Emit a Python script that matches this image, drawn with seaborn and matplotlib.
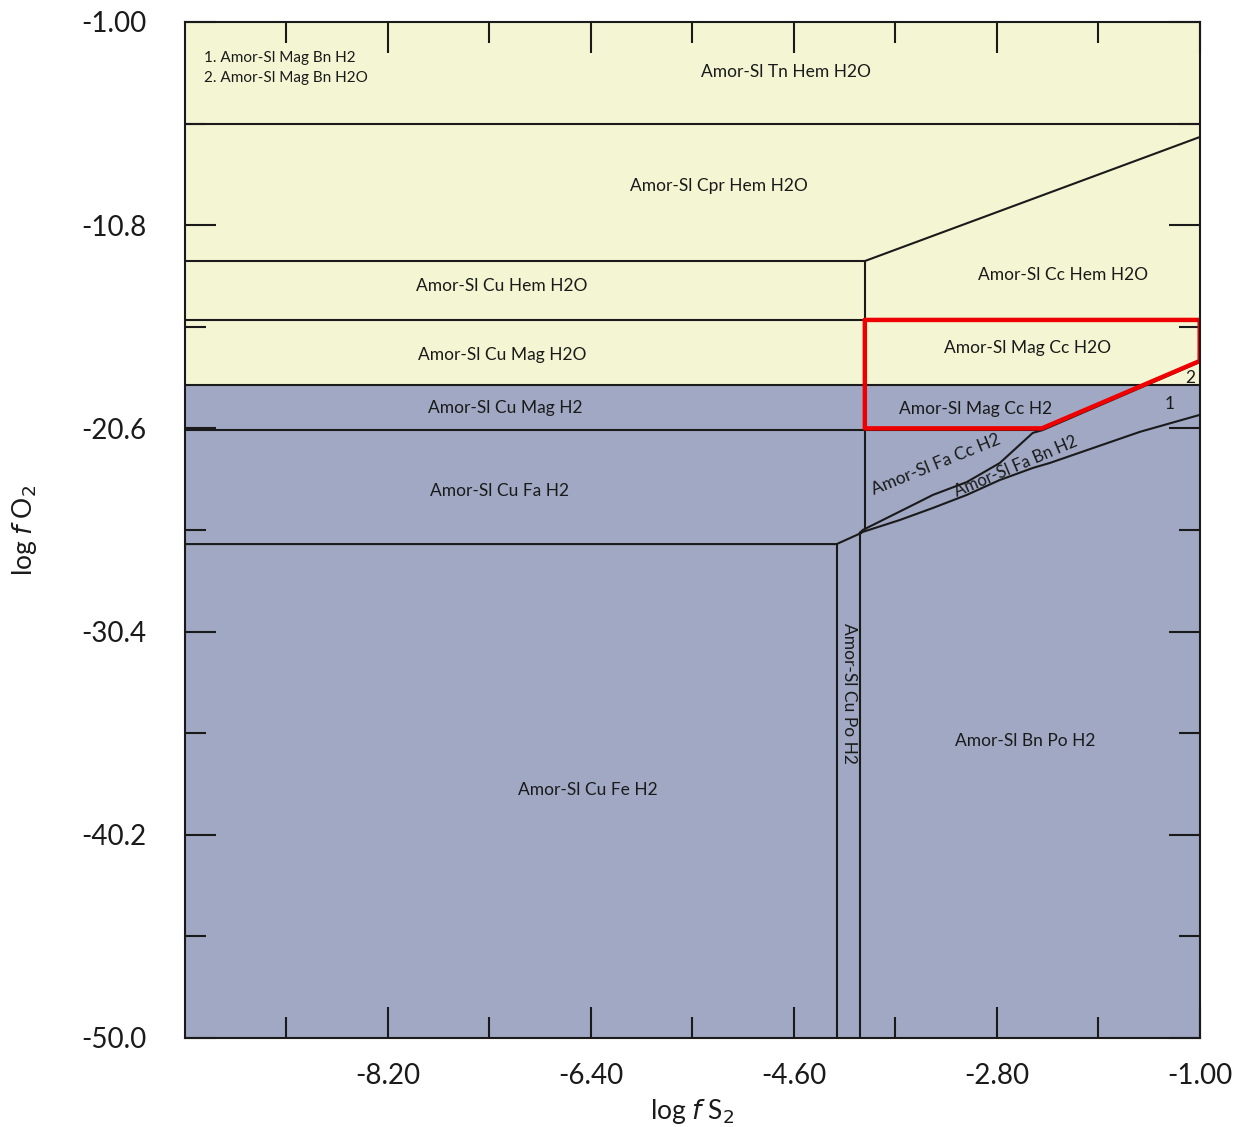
import matplotlib
matplotlib.use("Agg")
import matplotlib.pyplot as plt
import seaborn as sns
import numpy as np
import pandas as pd
from matplotlib.ticker import FixedLocator, FixedFormatter

sns.set_theme(style="white")
plt.rcParams['font.family'] = ['Lato', 'DejaVu Sans']

# ---- axes / ticks ----
x_range = [-10.0, -1.0]
y_range = [-50.0, -1.0]
x_major = [-8.2, -6.4, -4.6, -2.8, -1.0]
x_major_labels = ["-8.20", "-6.40", "-4.60", "-2.80", "-1.00"]
x_minor = [-9.1, -7.3, -5.5, -3.7, -1.9]
y_major = [-1.0, -10.8, -20.6, -30.4, -40.2, -50.0]
y_major_labels = ["-1.00", "-10.8", "-20.6", "-30.4", "-40.2", "-50.0"]
y_minor = [-5.9, -15.7, -25.5, -35.3, -45.1]

# ---- field boundary: H2O (yellow) above / H2 (blue) below ----
water_boundary = -18.5

# ---- boundary lines (log fS2, log fO2) ----
b_tn_cpr_x = [-10.0, -1.0]
b_tn_cpr_y = [-5.92, -5.92]
b_cu_hem_top_x = [-10.0, -3.97]
b_cu_hem_top_y = [-12.53, -12.53]
b_cc_hem_x = [-3.97, -1.0]
b_cc_hem_y = [-12.53, -6.55]
b_mag_hem_x = [-10.0, -1.0]
b_mag_hem_y = [-15.37, -15.37]
b_h2o_h2_x = [-10.0, -1.0]
b_h2o_h2_y = [-18.51, -18.51]
b_cu_mag_fa_x = [-10.0, -2.40]
b_cu_mag_fa_y = [-20.68, -20.68]
b_cu_vert_x = [-3.97, -3.97]
b_cu_vert_y = [-12.53, -25.50]
b_fa_fe_x = [-10.0, -4.22, -4.0]
b_fa_fe_y = [-26.18, -26.18, -25.64]
b_po_left_x = [-4.22, -4.22]
b_po_left_y = [-26.18, -50.0]
b_po_right_x = [-4.015, -4.015]
b_po_right_y = [-25.64, -50.0]
b_facc_x = [-4.015, -3.988, -3.811, -3.509, -3.367, -3.066, -2.773, -2.481, -2.392, -1.70, -1.0]
b_facc_y = [-25.64, -25.50, -25.02, -24.20, -23.81, -23.19, -22.27, -20.82, -20.68, -19.05, -17.40]
b_fabn_x = [-4.015, -3.660, -3.367, -3.066, -2.773, -2.481, -2.330, -1.532, -1.0]
b_fabn_y = [-25.64, -25.02, -24.44, -23.81, -23.09, -22.51, -22.27, -20.77, -19.95]

boundaries = [
    (b_tn_cpr_x, b_tn_cpr_y), (b_cu_hem_top_x, b_cu_hem_top_y),
    (b_cc_hem_x, b_cc_hem_y), (b_mag_hem_x, b_mag_hem_y),
    (b_h2o_h2_x, b_h2o_h2_y), (b_cu_mag_fa_x, b_cu_mag_fa_y),
    (b_cu_vert_x, b_cu_vert_y), (b_fa_fe_x, b_fa_fe_y),
    (b_po_left_x, b_po_left_y), (b_po_right_x, b_po_right_y),
    (b_facc_x, b_facc_y), (b_fabn_x, b_fabn_y),
]

# ---- highlighted (red) field ----
red_x = [-3.97, -1.0, -1.0, -2.40, -3.97, -3.97]
red_y = [-15.37, -15.37, -17.35, -20.60, -20.60, -15.37]

# ---- field labels ----
labels = ["Amor-Sl Tn Hem H2O", "Amor-Sl Cpr Hem H2O", "Amor-Sl Cc Hem H2O",
          "Amor-Sl Cu Hem H2O", "Amor-Sl Mag Cc H2O", "Amor-Sl Cu Mag H2O",
          "Amor-Sl Cu Mag H2", "Amor-Sl Mag Cc H2", "Amor-Sl Cu Fa H2",
          "Amor-Sl Bn Po H2", "Amor-Sl Cu Fe H2", "1", "2"]
label_x = [-4.67, -5.26, -2.21, -7.19, -2.53, -7.19,
           -7.16, -2.99, -7.21, -2.55, -6.43, -1.27, -1.08]
label_y = [-3.40, -8.89, -13.20, -13.73, -16.73, -17.06,
           -19.61, -19.67, -23.62, -35.68, -38.05, -19.42, -18.15]
rot_labels = ["Amor-Sl Fa Cc H2", "Amor-Sl Fa Bn H2", "Amor-Sl Cu Po H2"]
rot_x = [-3.34, -2.63, -4.11]
rot_y = [-22.35, -22.45, -33.36]
rot_angle = [22, 23, -90]
rot_size = [12.5, 12, 12.5]
legend_lines = ["1. Amor-Sl Mag Bn H2", "2. Amor-Sl Mag Bn H2O"]
legend_x = [-9.83, -9.83]
legend_y = [-2.73, -3.70]

yellow = "#F4F5D3"
blue = "#A0A8C3"

fig = plt.figure(figsize=(12.33, 11.27), dpi=100)
ax = fig.add_axes([0.150, 0.079, 0.823, 0.9015])
ax.set_xlim(*x_range)
ax.set_ylim(*y_range)

ax.axhspan(water_boundary, y_range[1], color=yellow, zorder=0, lw=0)
ax.axhspan(y_range[0], water_boundary, color=blue, zorder=0, lw=0)

for bx, by in boundaries:
    df = pd.DataFrame({"x": bx, "y": by})
    sns.lineplot(data=df, x="x", y="y", sort=False, estimator=None,
                 color="#1a1a1a", lw=1.5, ax=ax, zorder=3)

df_red = pd.DataFrame({"x": red_x, "y": red_y})
sns.lineplot(data=df_red, x="x", y="y", sort=False, estimator=None,
             color="#ee0000", lw=3.2, ax=ax, zorder=5)

for t, x, y in zip(labels, label_x, label_y):
    ax.text(x, y, t, ha="center", va="center", fontsize=12.5, color="#1a1a1a", zorder=6)
for t, x, y, r, s in zip(rot_labels, rot_x, rot_y, rot_angle, rot_size):
    ax.text(x, y, t, ha="center", va="center", fontsize=s, color="#1a1a1a",
            rotation=r, rotation_mode="anchor", zorder=6)
for t, x, y in zip(legend_lines, legend_x, legend_y):
    ax.text(x, y, t, ha="left", va="center", fontsize=11, color="#1a1a1a", zorder=6)

ax.xaxis.set_major_locator(FixedLocator(x_major))
ax.xaxis.set_major_formatter(FixedFormatter(x_major_labels))
ax.xaxis.set_minor_locator(FixedLocator(x_minor))
ax.yaxis.set_major_locator(FixedLocator(y_major))
ax.yaxis.set_major_formatter(FixedFormatter(y_major_labels))
ax.yaxis.set_minor_locator(FixedLocator(y_minor))
ax.tick_params(which="both", direction="in", top=True, right=True, bottom=True, left=True,
               color="#1a1a1a", width=1.5, labelsize=20, labelcolor="#1a1a1a")
ax.tick_params(which="major", length=22)
ax.tick_params(which="minor", length=15)
ax.tick_params(axis="x", which="major", pad=18)
ax.tick_params(axis="y", which="major", pad=28)
for s in ax.spines.values():
    s.set_color("#1a1a1a")
    s.set_linewidth(1.5)
    s.set_zorder(7)

ax.set_xlabel(r"log $f$ S$_2$", fontsize=19, color="#1a1a1a", labelpad=6)
ax.set_ylabel(r"log $f$ O$_2$", fontsize=19, color="#1a1a1a", labelpad=30)
ax.grid(False)

fig.savefig("out.png", dpi=100)
